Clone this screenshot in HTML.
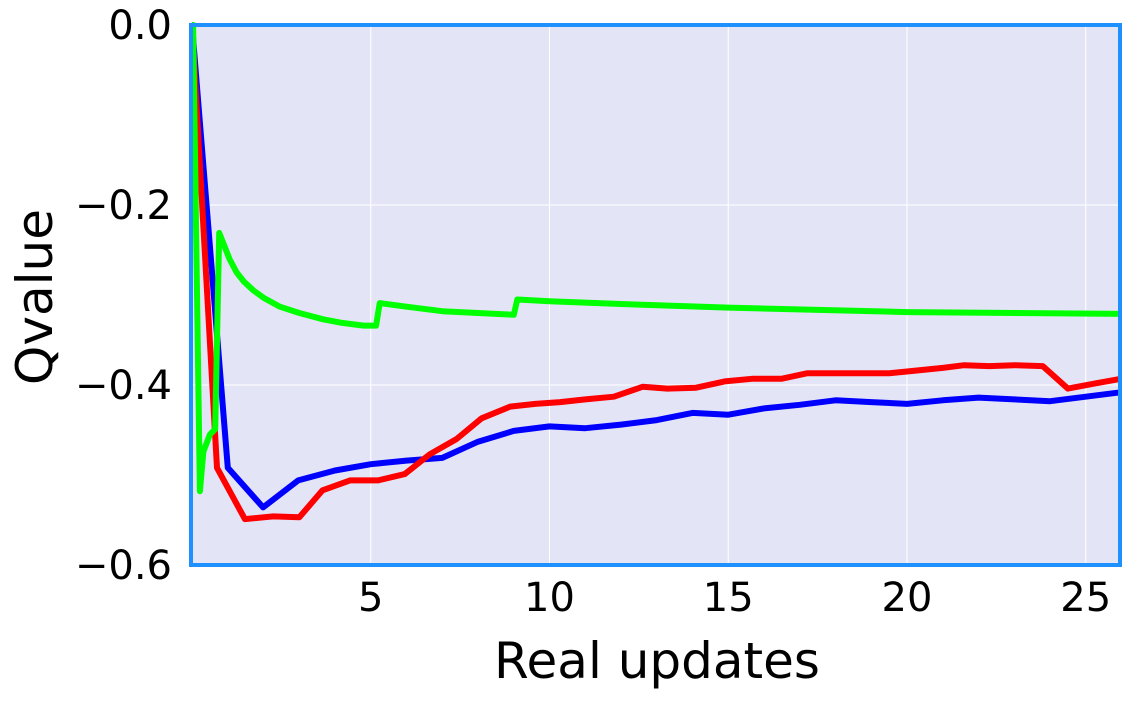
<!DOCTYPE html>
<html><head><meta charset="utf-8"><style>
body{margin:0;background:#fff;}
svg text{font-family:"DejaVu Sans","Liberation Sans",sans-serif;fill:#000;}
</style></head><body>
<svg id="chart" width="1135" height="698" xmlns="http://www.w3.org/2000/svg">
<rect x="191" y="25" width="929" height="540" fill="#e4e4f7"/>
<g id="grid"></g>
<g id="ticks"></g>
<g id="lines"></g>
<rect x="191" y="25" width="929" height="540" fill="none" stroke="#1e90ff" stroke-width="4"/>
<text transform="translate(52,297) rotate(-90)" text-anchor="middle" font-size="50">Qvalue</text>
<text x="657" y="678" text-anchor="middle" font-size="50">Real updates</text>
</svg>
<script>
const xTicks=[5,10,15,20,25];
const yTicks=[0,-0.2,-0.4,-0.6];
const yTickLabels=["0.0","\u22120.2","\u22120.4","\u22120.6"];
const greenX=[0,0.03,0.22,0.32,0.5,0.65,0.76,0.9,1.05,1.25,1.45,1.72,2.0,2.46,3.0,3.67,4.2,4.8,5.15,5.25,6,7,8,9,9.1,10,12,15,20,26];
const greenY=[0,0,-0.518,-0.474,-0.455,-0.449,-0.231,-0.245,-0.26,-0.275,-0.285,-0.295,-0.303,-0.313,-0.32,-0.327,-0.331,-0.334,-0.334,-0.309,-0.313,-0.318,-0.32,-0.322,-0.305,-0.307,-0.31,-0.314,-0.319,-0.321];
const blueX=[0,1,1.99,2.97,4,5,6,7,8,9,10,11,12,13,14,15,16,17,18,19,20,21,22,23,24,25,26];
const blueY=[0,-0.492,-0.536,-0.506,-0.495,-0.488,-0.484,-0.481,-0.463,-0.451,-0.446,-0.448,-0.444,-0.439,-0.431,-0.433,-0.426,-0.422,-0.417,-0.419,-0.421,-0.417,-0.414,-0.416,-0.418,-0.413,-0.408];
const redX=[0,0.7,1.48,2.27,3,3.65,4.42,5.2,5.95,6.65,7.4,8.1,8.9,9.6,10.3,11,11.8,12.6,13.3,14.1,14.9,15.7,16.5,17.2,18,19.5,20,21,21.6,22.3,23,23.8,24.5,25.3,26];
const redY=[0,-0.492,-0.549,-0.546,-0.547,-0.517,-0.506,-0.506,-0.499,-0.477,-0.46,-0.437,-0.424,-0.421,-0.419,-0.416,-0.413,-0.402,-0.404,-0.403,-0.396,-0.393,-0.393,-0.387,-0.387,-0.387,-0.385,-0.381,-0.378,-0.379,-0.378,-0.379,-0.404,-0.398,-0.393];
const NS="http://www.w3.org/2000/svg";
const sx=v=>192+v*35.75;
const sy=v=>25-v*900;
function mk(t,a,p){const e=document.createElementNS(NS,t);for(const k in a)e.setAttribute(k,a[k]);p.appendChild(e);return e;}
const grid=document.getElementById('grid'),ticks=document.getElementById('ticks'),lines=document.getElementById('lines');
xTicks.forEach(v=>{
 const g=mk('line',{x1:sx(v),x2:sx(v),y1:25,y2:565,stroke:'#fff','stroke-width':1},grid);
 
 
 const t=mk('text',{x:sx(v),y:611,'text-anchor':'middle','font-size':40},ticks);
 
 
 t.textContent=v;
});
yTicks.forEach((v,i)=>{
 const g=mk('line',{x1:191,x2:1120,y1:sy(v),y2:sy(v),stroke:'#fff','stroke-width':1},grid);
 
 
 const t=mk('text',{x:172,y:sy(v)+14,'text-anchor':'end','font-size':40},ticks);
 
 
 t.textContent=yTickLabels[i];
});
function series(xs,ys,color,name){
 const d=xs.map((x,i)=>(i?'L':'M')+sx(x).toFixed(1)+','+sy(ys[i]).toFixed(1)).join('');
 const p=mk('path',{d:d,fill:'none',stroke:color,'stroke-width':6,'stroke-linejoin':'round'},lines);
 
 
}
series(blueX,blueY,'#0000ff','blue-series-line');
series(redX,redY,'#ff0000','red-series-line');
series(greenX,greenY,'#00ff00','green-series-line');
</script>
</body></html>
